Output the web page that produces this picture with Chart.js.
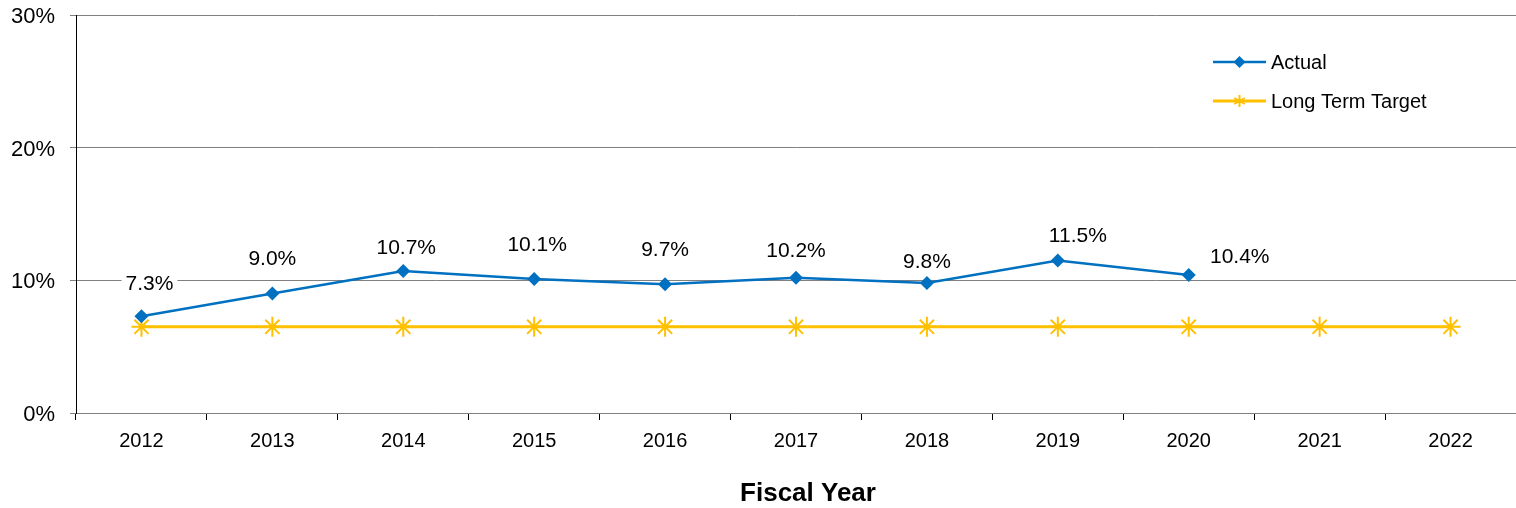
<!DOCTYPE html>
<html>
<head>
<meta charset="utf-8">
<script src="https://cdn.jsdelivr.net/npm/chart.js@4/dist/chart.umd.min.js"></script>
<style>
html,body{margin:0;padding:0;background:#fff;overflow:hidden;}
#wrap{width:1516px;height:508px;position:relative;}
canvas{display:block;}
</style>
</head>
<body>
<div id="wrap"><canvas id="c" width="1516" height="508"></canvas></div>
<script>
const years = ['2012','2013','2014','2015','2016','2017','2018','2019','2020','2021','2022'];
const actual = [7.3, 9.0, 10.7, 10.1, 9.7, 10.2, 9.8, 11.5, 10.4, null, null];
const target = [6.5, 6.5, 6.5, 6.5, 6.5, 6.5, 6.5, 6.5, 6.5, 6.5, 6.5];
const yTicks = [0, 10, 20, 30];
const seriesNames = ['Actual', 'Long Term Target'];
const axisTitle = 'Fiscal Year';

const FONT = '"Liberation Sans", Arial, sans-serif';
const BLUE = '#0070C0';
const GOLD = '#FFC000';

// label placement tweaks (pixels), style only
const labelDx = [8, 0, 3, 3, 0, 0, 0, 20, 51];
const labelDy = [-33, -35, -24, -35, -35, -27, -22, -25, -19];

const dataLabels = {
  id: 'dataLabels',
  afterDatasetsDraw(chart) {
    const ctx = chart.ctx;
    const meta = chart.getDatasetMeta(0);
    ctx.save();
    ctx.font = '21px ' + FONT;
    ctx.textAlign = 'center';
    ctx.textBaseline = 'middle';
    meta.data.forEach((pt, i) => {
      const v = chart.data.datasets[0].data[i];
      if (v === null || v === undefined) return;
      const txt = v.toFixed(1) + '%';
      const x = pt.x + (labelDx[i] || 0);
      const y = pt.y + (labelDy[i] || -30);
      const w = ctx.measureText(txt).width;
      ctx.fillStyle = '#fff';
      ctx.fillRect(x - w/2 - 4, y - 12, w + 8, 24);
      ctx.fillStyle = '#000';
      ctx.fillText(txt, x, y + 1);
    });
    ctx.restore();
  }
};

const insideLegend = {
  id: 'insideLegend',
  afterDraw(chart) {
    const ctx = chart.ctx;
    const x0 = 1213, x1 = 1266, ys = [62, 101];
    ctx.save();
    chart.data.datasets.forEach((ds, i) => {
      const y = ys[i];
      ctx.strokeStyle = ds.borderColor;
      ctx.lineWidth = ds.borderWidth;
      ctx.beginPath(); ctx.moveTo(x0, y); ctx.lineTo(x1, y); ctx.stroke();
      const xm = (x0 + x1) / 2;
      if (i === 0) {
        ctx.fillStyle = ds.borderColor;
        ctx.beginPath();
        ctx.moveTo(xm, y - 6); ctx.lineTo(xm + 6, y); ctx.lineTo(xm, y + 6); ctx.lineTo(xm - 6, y);
        ctx.closePath(); ctx.fill();
      } else {
        ctx.lineWidth = 2;
        const r = 6;
        ctx.beginPath();
        ctx.moveTo(xm, y - r); ctx.lineTo(xm, y + r);
        ctx.moveTo(xm - r*0.87, y - r*0.5); ctx.lineTo(xm + r*0.87, y + r*0.5);
        ctx.moveTo(xm - r*0.87, y + r*0.5); ctx.lineTo(xm + r*0.87, y - r*0.5);
        ctx.stroke();
      }
      ctx.fillStyle = '#000';
      ctx.font = '20px ' + FONT;
      ctx.textAlign = 'left';
      ctx.textBaseline = 'middle';
      ctx.fillText(ds.label, 1271, y + 1);
    });
    ctx.restore();
  }
};

const axisTitlePlugin = {
  id: 'axisTitlePlugin',
  afterDraw(chart) {
    const ctx = chart.ctx;
    const a = chart.chartArea;
    ctx.save();
    ctx.fillStyle = '#000';
    ctx.font = 'bold 26px ' + FONT;
    ctx.textAlign = 'center';
    ctx.textBaseline = 'middle';
    ctx.fillText(axisTitle, (a.left + a.right) / 2 + 12, a.bottom + 81);
    ctx.restore();
  }
};

new Chart(document.getElementById('c'), {
  type: 'line',
  data: {
    labels: years,
    datasets: [
      {
        label: seriesNames[0],
        data: actual,
        borderColor: BLUE,
        backgroundColor: BLUE,
        borderWidth: 2.5,
        pointStyle: 'rectRot',
        pointRadius: 7,
        pointBackgroundColor: BLUE,
        pointBorderColor: BLUE,
        pointBorderWidth: 0,
        tension: 0,
        spanGaps: false,
        clip: false,
        order: 1
      },
      {
        label: seriesNames[1],
        data: target,
        borderColor: GOLD,
        backgroundColor: GOLD,
        borderWidth: 3,
        pointStyle: 'star',
        pointRadius: 10,
        pointBorderColor: GOLD,
        pointBorderWidth: 2,
        tension: 0,
        clip: false,
        order: 2
      }
    ]
  },
  options: {
    responsive: false,
    animation: false,
    devicePixelRatio: 1,
    layout: { autoPadding: false, padding: { top: 15, right: 0, left: 0, bottom: 0 } },
    plugins: {
      legend: { display: false },
      tooltip: { enabled: false }
    },
    scales: {
      x: {
        type: 'category',
        offset: true,
        grid: {
          offset: true,
          drawOnChartArea: false,
          drawTicks: true,
          tickLength: 7,
          tickColor: '#000',
          color: '#000'
        },
        border: { display: true, color: '#808080', width: 1 },
        ticks: {
          color: '#000',
          font: { family: FONT, size: 20 },
          padding: 9,
          maxRotation: 0,
          autoSkip: false
        },
        title: { display: false },
        afterFit(scale) {
          scale.height = 95;
          scale.paddingLeft = 0; scale.paddingRight = 0;
        }
      },
      y: {
        min: 0,
        max: 30,
        afterBuildTicks(scale) { scale.ticks = yTicks.map(v => ({ value: v })); },
        grid: {
          color: '#808080',
          lineWidth: 1,
          drawTicks: true,
          tickLength: 6,
          tickColor: '#808080'
        },
        border: { display: true, color: '#000', width: 1 },
        ticks: {
          color: '#000',
          font: { family: FONT, size: 22 },
          padding: 15,
          labelOffset: 2,
          callback: v => v + '%'
        },
        afterFit(scale) {
          scale.width = 76;
          scale.paddingTop = 0; scale.paddingBottom = 0;
        }
      }
    }
  },
  plugins: [dataLabels, insideLegend, axisTitlePlugin]
});
</script>
</body>
</html>
